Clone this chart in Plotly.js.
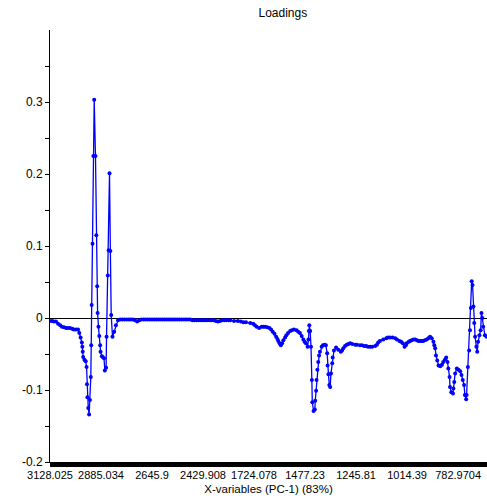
<!DOCTYPE html>
<html>
<head>
<meta charset="utf-8">
<script src="https://cdn.plot.ly/plotly-3.0.1.min.js"></script>
<style>
html,body{margin:0;padding:0;background:#fff;}
#chart{width:487px;height:498px;}
</style>
</head>
<body>
<div id="chart"></div>
<script>
// X-variable index (one per spectral variable) and PC-1 loading values
var varIndex = [
  0,5,9,14,19,24,28,33,38,42,47,52,56,61,66,69,72,75,76,77,78,81,84,86,87,88,90,92,94,96,97,98,
  100,102,104,107,109,111,112,114,116,118,119,122,124,127,129,132,133,136,138,140,142,144,147,151,155,
  160,165,170,175,180,185,190,195,200,205,210,215,220,225,230,235,240,245,250,255,260,265,270,275,280,
  285,290,295,300,305,310,315,320,325,330,335,340,345,350,355,360,365,370,375,380,385,390,395,400,405,
  410,415,420,
  424,433,442,449,455,461,471,478,482,486,492,498,502,506,511,516,520,524,528,532,535,537,540,543,546,
  549,553,556,560,565,569,574,580,584,588,592,596,599,602,606,608,609,610,612,614,616,617,620,623,624,
  626,627,629,631,633,635,639,642,646,649,652,653,655,657,659,661,664,665,668,673,678,684,687,690,694,
  698,702,706,711,718,722,729,734,739,744,748,753,758,765,769,772,776,784,791,795,800,806,812,816,822,
  826,830,834,837,839,844,847,851,855,859,863,867,871,875,878,882,886,890,894,898,902,904,906,908,911,
  914,918,922,925,929,932,935,937,940,941,944,948,949,951,953,957,961,965,968,971,974,976,979,980,983,
  986,988,990,992,994,996,998,1000,1003,1005,1007,1010,1013,1015,1017,1019,1023,1027,1030
];
var loading = [
  -0.004,-0.004,-0.005,-0.005,-0.008,-0.010,-0.012,-0.013,-0.014,-0.014,-0.014,-0.015,-0.016,-0.016,-0.016,
  -0.021,-0.027,-0.034,-0.040,-0.047,-0.054,-0.058,-0.060,-0.068,-0.092,-0.110,-0.125,-0.134,-0.114,-0.082,
  -0.038,0.018,0.103,0.225,0.303,0.225,0.115,0.044,0.007,-0.012,-0.025,-0.038,-0.047,-0.053,-0.054,-0.056,
  -0.073,-0.069,-0.026,0.059,0.094,0.201,0.093,0.004,-0.026,-0.019,-0.010,
  -0.003,-0.002,-0.002,-0.002,-0.002,-0.002,-0.002,-0.002,-0.003,-0.005,-0.003,-0.002,-0.002,-0.002,-0.002,
  -0.002,-0.002,-0.002,-0.002,-0.002,-0.002,-0.002,-0.002,-0.002,-0.002,-0.002,-0.002,-0.002,-0.002,-0.002,
  -0.002,-0.002,-0.002,-0.002,-0.002,-0.003,-0.003,-0.003,-0.003,-0.003,-0.003,-0.003,-0.003,-0.003,-0.003,
  -0.003,-0.004,-0.005,-0.004,-0.003,-0.003,-0.003,-0.003,
  -0.003,-0.004,-0.004,-0.005,-0.006,-0.006,-0.007,-0.008,-0.010,-0.012,-0.014,-0.012,-0.012,-0.012,-0.013,
  -0.014,-0.016,-0.019,-0.022,-0.026,-0.029,-0.032,-0.035,-0.038,-0.035,-0.031,-0.027,-0.024,-0.021,-0.018,
  -0.017,-0.016,-0.017,-0.019,-0.021,-0.025,-0.030,-0.033,-0.035,-0.040,-0.030,-0.018,-0.010,-0.018,-0.040,
  -0.086,-0.117,-0.129,-0.127,-0.115,-0.101,-0.086,-0.072,-0.061,-0.052,-0.047,-0.040,-0.038,-0.037,-0.038,
  -0.049,-0.066,-0.078,-0.093,-0.096,-0.077,-0.063,-0.055,-0.045,-0.041,-0.044,-0.047,-0.045,-0.042,-0.039,
  -0.037,-0.036,-0.035,-0.036,-0.037,-0.037,-0.038,-0.038,-0.039,-0.039,-0.040,-0.040,-0.040,-0.039,-0.037,
  -0.034,-0.032,-0.030,-0.028,-0.027,-0.027,-0.027,-0.028,-0.030,-0.032,-0.033,-0.035,-0.040,-0.038,-0.035,
  -0.033,-0.032,-0.031,-0.030,-0.030,-0.031,-0.032,-0.032,-0.032,-0.032,-0.031,-0.030,-0.028,-0.026,-0.028,
  -0.033,-0.038,-0.042,-0.052,-0.059,-0.066,-0.067,-0.065,-0.061,-0.058,-0.055,-0.061,-0.070,-0.082,-0.096,
  -0.103,-0.105,-0.098,-0.089,-0.077,-0.070,-0.072,-0.074,-0.079,-0.086,-0.093,-0.107,-0.113,-0.107,-0.068,
  -0.045,-0.017,0.014,0.051,0.046,0.016,-0.007,-0.026,-0.040,-0.047,-0.033,-0.024,-0.017,0.007,0.000,
  -0.012,-0.024,-0.026,-0.025
];
// x tick positions (variable index) and their wavenumber labels
var xTickIndex = [0,120,240,360,480,600,720,840,960];
var xTickLabels = ["3128.025","2885.034","2645.9","2429.908","1724.078","1477.23","1245.81","1014.39","782.9704"];
var yTickVals = [-0.2,-0.1,0,0.1,0.2,0.3];
var yTickLabels = ["-0.2","-0.1","0","0.1","0.2","0.3"];
var yMinorVals = [-0.15,-0.05,0.05,0.15,0.25,0.35];

var trace = {
  x: varIndex, y: loading, type: 'scatter', mode: 'lines+markers',
  line: {color: '#0000ff', width: 1.3},
  marker: {color: '#0000ff', size: 4, symbol: 'circle'},
  hoverinfo: 'skip', cliponaxis: true
};

var font = {family: 'Liberation Sans, Arial, sans-serif', size: 11, color: '#000'};
var layout = {
  width: 487, height: 498,
  margin: {l: 50, r: 0, t: 30, b: 36, pad: 0},
  paper_bgcolor: '#fff', plot_bgcolor: '#fff',
  showlegend: false,
  font: font,
  title: {text: 'Loadings', font: {family: font.family, size: 12, color: '#000'},
          x: 259.5/487, xanchor: 'center', xref: 'paper', y: 1 - 13/498, yanchor: 'middle', yref: 'container'},
  xaxis: {
    range: [0, 1028], showgrid: false, zeroline: false,
    showline: true, linecolor: '#000', linewidth: 1,
    tickmode: 'array', tickvals: xTickIndex, ticktext: xTickLabels,
    ticks: 'outside', ticklen: 3, tickcolor: '#000', tickwidth: 1,
    tickfont: {family: font.family, size: 11, color: '#000'},
    title: {text: 'X-variables (PC-1) (83%)', font: {family: font.family, size: 11.5, color: '#000'}, standoff: 4},
    automargin: false, fixedrange: true
  },
  yaxis: {
    range: [-0.2, 0.4], showgrid: false,
    zeroline: true, zerolinecolor: '#000', zerolinewidth: 1,
    showline: true, linecolor: '#000', linewidth: 1,
    tickmode: 'array', tickvals: yTickVals, ticktext: yTickLabels,
    ticks: 'outside', ticklen: 4, tickcolor: '#000', tickwidth: 1,
    minor: {tickmode: 'array', tickvals: yMinorVals, ticks: 'outside', ticklen: 4, tickcolor: '#000', tickwidth: 1, showgrid: false},
    tickfont: {family: font.family, size: 12, color: '#000'},
    automargin: false, fixedrange: true
  },
  shapes: [{
    type: 'rect', xref: 'paper', yref: 'paper', x0: 0, x1: 1,
    ysizemode: 'pixel', yanchor: 0, y0: -5, y1: 0,
    fillcolor: '#000', line: {width: 0}, layer: 'above'
  }]
};

Plotly.newPlot('chart', [trace], layout, {staticPlot: true, displayModeBar: false});
</script>
</body>
</html>
